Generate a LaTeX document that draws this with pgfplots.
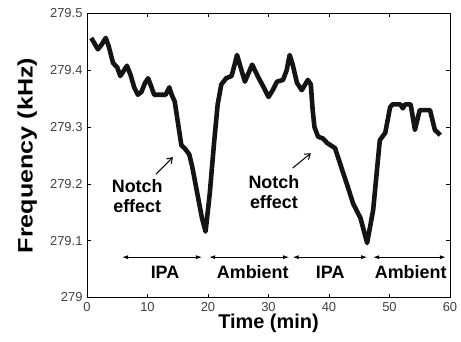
\documentclass[border=0pt]{standalone}
\usepackage{fontspec}
\setmainfont{Liberation Sans}
\usepackage{pgfplots}
\pgfplotsset{compat=1.18}
\usetikzlibrary{arrows.meta}
\begin{document}
\begin{tikzpicture}
\useasboundingbox (-87bp,-44.5bp) rectangle (374bp,297.5bp);
\begin{axis}[
  scale only axis,
  width=363bp, height=284bp,
  xmin=0, xmax=60, ymin=279, ymax=279.5,
  xtick={0,10,...,60},
  ytick={279,279.1,279.2,279.3,279.4,279.5},
  yticklabels={279,279.1,279.2,279.3,279.4,279.5},
  tick align=inside,
  major tick length=4bp,
  axis line style={line width=0.8pt},
  tick style={line width=0.6pt, black},
  /pgf/number format/assume math mode=true,
  tick label style={font=\fontsize{13}{13}\selectfont, color=black!75},
  xticklabel style={yshift=-1bp},
  yticklabel style={xshift=-1bp},
  xlabel={\bfseries Time (min)},
  ylabel={\scalebox{1.2}[1]{\bfseries Frequency (kHz)}},
  xlabel style={font=\fontsize{20}{20}\selectfont, at={(axis description cs:0.5,-0.092)}, anchor=center},
  ylabel style={font=\fontsize{21}{21}\selectfont, at={(axis description cs:-0.165,0.5)}, anchor=center},
  clip=false,
]
\addplot[black!92, line width=4.6bp, line join=round] coordinates {
(0.7,279.457) (1.2,279.448) (1.8,279.437) (2.4,279.445) (3.1,279.457)
(3.6,279.442) (4.3,279.413) (5.0,279.405) (5.5,279.390) (6.0,279.398)
(6.6,279.408) (7.2,279.392) (7.8,279.370) (8.4,279.357) (9.0,279.362)
(9.6,279.378) (10.1,279.386) (10.6,279.372) (11.1,279.357) (12.0,279.357)
(13.0,279.357) (13.6,279.370) (14.0,279.357) (14.5,279.345) (15.0,279.310)
(15.6,279.268) (16.2,279.262) (16.9,279.252) (17.4,279.230) (18.2,279.185)
(19.0,279.140) (19.6,279.116) (20.3,279.184) (21.0,279.272) (21.6,279.340)
(22.2,279.375) (23.0,279.386) (23.9,279.390) (24.4,279.410) (24.8,279.427)
(25.4,279.405) (26.1,279.380) (26.7,279.395) (27.3,279.410) (28.3,279.388)
(29.2,279.370) (30.0,279.353) (30.7,279.365) (31.4,279.380) (32.4,279.383)
(33.0,279.400) (33.5,279.427) (34.0,279.410) (34.7,279.378) (35.5,279.365)
(36.5,279.383) (37.0,279.375) (37.3,279.330) (37.6,279.300) (38.2,279.283)
(39.0,279.280) (39.7,279.272) (41.0,279.263) (41.8,279.237) (43.1,279.195)
(44.0,279.165) (45.2,279.140) (46.3,279.096) (47.3,279.154) (48.4,279.277)
(49.3,279.290) (50.1,279.335) (50.5,279.340) (51.8,279.340) (52.2,279.333)
(52.6,279.340) (53.5,279.340) (54.2,279.295) (55.0,279.330) (56.7,279.330)
(57.5,279.295) (58.4,279.286)
};
% annotations
\node[font=\fontsize{18}{20}\selectfont\bfseries, align=center] at (axis cs:8.3,279.178) {Notch\\effect};
\node[font=\fontsize{18}{20}\selectfont\bfseries, align=center] at (axis cs:30.9,279.185) {Notch\\effect};
\draw[-{Straight Barb[length=5bp,width=7bp]}, line width=1pt] (axis cs:11.4,279.217) -- (axis cs:14.2,279.247);
\draw[-{Straight Barb[length=5bp,width=7bp]}, line width=1pt] (axis cs:34.0,279.228) -- (axis cs:37.0,279.254);
\draw[{Latex[length=6bp,width=4bp]}-{Latex[length=6bp,width=4bp]}, line width=0.8pt] (axis cs:5.8,279.071) -- (axis cs:19.0,279.071);
\draw[{Latex[length=6bp,width=4bp]}-{Latex[length=6bp,width=4bp]}, line width=0.8pt] (axis cs:20.2,279.071) -- (axis cs:33.4,279.071);
\draw[{Latex[length=6bp,width=4bp]}-{Latex[length=6bp,width=4bp]}, line width=0.8pt] (axis cs:34.0,279.071) -- (axis cs:46.3,279.071);
\draw[{Latex[length=6bp,width=4bp]}-{Latex[length=6bp,width=4bp]}, line width=0.8pt] (axis cs:47.3,279.071) -- (axis cs:59.3,279.071);
\node[font=\fontsize{18}{20}\selectfont\bfseries] at (axis cs:12.9,279.045) {IPA};
\node[font=\fontsize{18}{20}\selectfont\bfseries] at (axis cs:27.4,279.045) {Ambient};
\node[font=\fontsize{18}{20}\selectfont\bfseries] at (axis cs:40.2,279.045) {IPA};
\node[font=\fontsize{18}{20}\selectfont\bfseries] at (axis cs:53.5,279.045) {Ambient};
\end{axis}
\end{tikzpicture}
\end{document}
